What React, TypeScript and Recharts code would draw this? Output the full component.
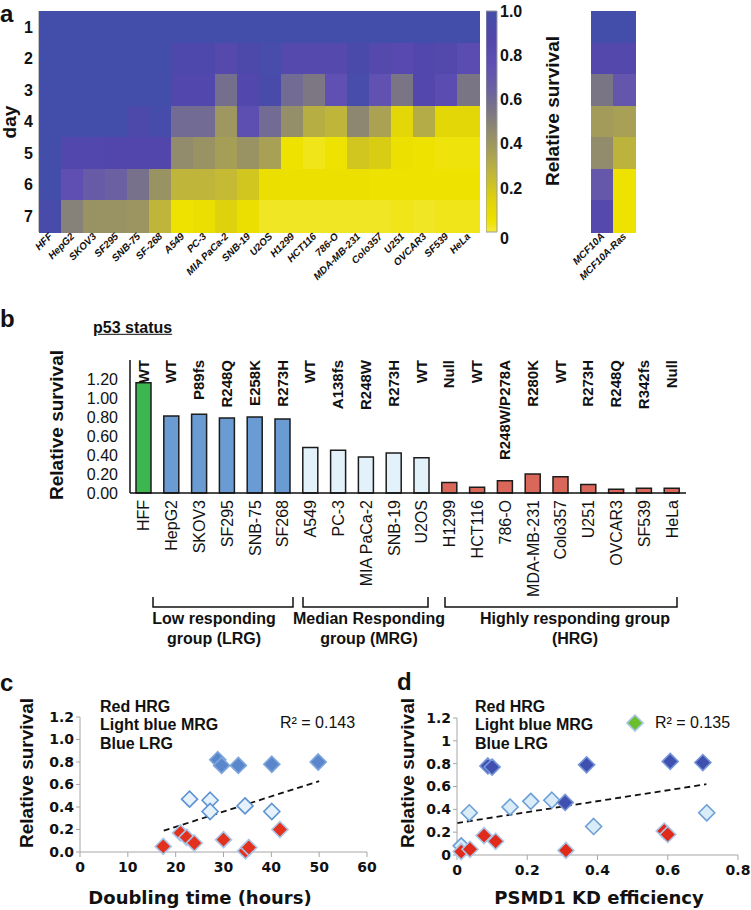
import React from 'react';
import {
  ScatterChart, Scatter, XAxis, YAxis, ComposedChart, BarChart, Bar, Cell,
  LabelList, Line,
} from 'recharts';

const SANS = '"Liberation Sans", Arial, Helvetica, sans-serif';
const NARROW = '"Liberation Sans Narrow", "Liberation Sans", Arial, sans-serif';
const DJ = '"DejaVu Sans", "Liberation Sans", sans-serif';

// ---------------- Panel a : heatmap ----------------
const heatCellLines = ['HFF', 'HepG2', 'SKOV3', 'SF295', 'SNB-75', 'SF-268', 'A549', 'PC-3', 'MIA PaCa-2', 'SNB-19', 'U2OS', 'H1299', 'HCT116', '786-O', 'MDA-MB-231', 'Colo357', 'U251', 'OVCAR3', 'SF539', 'HeLa'];
const dayTicks = [1, 2, 3, 4, 5, 6, 7];
const day1 = [1, 1, 1, 1, 1, 1, 1, 1, 1, 1, 1, 1, 1, 1, 1, 1, 1, 1, 1, 1];
const day2 = [1, 1, 1, 1, 1, 1, 0.9, 0.9, 0.84, 0.92, 0.96, 0.84, 0.84, 0.84, 0.94, 0.84, 0.83, 0.88, 0.85, 0.8];
const day3 = [1, 1, 1, 1, 1, 1, 0.88, 0.88, 0.58, 0.88, 0.95, 0.6, 0.54, 0.75, 0.96, 0.74, 0.55, 0.86, 0.8, 0.55];
const day4 = [1, 1, 1, 1, 0.92, 0.97, 0.6, 0.6, 0.4, 0.78, 0.6, 0.44, 0.3, 0.27, 0.47, 0.35, 0.12, 0.31, 0.12, 0.12];
const day5 = [1, 0.88, 0.88, 0.87, 0.87, 0.87, 0.45, 0.42, 0.37, 0.42, 0.36, 0.05, 0.03, 0.05, 0.2, 0.17, 0.06, 0.05, 0.04, 0.04];
const day6 = [1, 0.76, 0.68, 0.65, 0.57, 0.42, 0.27, 0.27, 0.25, 0.2, 0.07, 0.06, 0.06, 0.06, 0.06, 0.05, 0.05, 0.05, 0.05, 0.05];
const day7 = [0.95, 0.5, 0.42, 0.42, 0.41, 0.27, 0.05, 0.07, 0.15, 0.07, 0.02, 0.02, 0.02, 0.02, 0.02, 0.02, 0.03, 0.02, 0.03, 0.03];
const heatRows = [day1, day2, day3, day4, day5, day6, day7];

const mcfLines = ['MCF10A', 'MCF10A-Ras'];
const mcf10a = [1, 0.85, 0.55, 0.38, 0.45, 0.7, 0.84];
const mcf10aRas = [1, 0.85, 0.71, 0.36, 0.28, 0.05, 0.05];

const colorbarTicks = [0, 0.2, 0.4, 0.6, 0.8, 1.0];
const colorbarRange = [0, 1];

// colour map (style)
const cmapStops: [number, number[]][] = [
  [0.0, [243, 233, 60]],
  [0.05, [238, 226, 0]],
  [0.15, [222, 210, 12]],
  [0.25, [196, 186, 52]],
  [0.35, [170, 162, 82]],
  [0.45, [146, 140, 108]],
  [0.55, [122, 117, 133]],
  [0.65, [106, 96, 162]],
  [0.75, [96, 80, 180]],
  [0.87, [82, 70, 172]],
  [1.0, [67, 78, 170]],
];
const rgb = (c: number[]) => `rgb(${Math.round(c[0])},${Math.round(c[1])},${Math.round(c[2])})`;
function survivalColor(v: number) {
  const t = Math.max(0, Math.min(1, v));
  for (let i = 1; i < cmapStops.length; i++) {
    const [s1, c1] = cmapStops[i];
    const [s0, c0] = cmapStops[i - 1];
    if (t <= s1) {
      const f = (t - s0) / (s1 - s0);
      return rgb([0, 1, 2].map((k) => c0[k] + (c1[k] - c0[k]) * f));
    }
  }
  return rgb(cmapStops[cmapStops.length - 1][1]);
}

const heatPoints = heatRows.flatMap((row, d) => row.map((v, c) => ({ x: c, y: dayTicks[d], v })));
const mcfPoints = [mcf10a, mcf10aRas].flatMap((col, c) => col.map((v, d) => ({ x: c, y: dayTicks[d], v })));

// ---------------- Panel b : bars ----------------
const barCellLines = ['HFF', 'HepG2', 'SKOV3', 'SF295', 'SNB-75', 'SF268', 'A549', 'PC-3', 'MIA PaCa-2', 'SNB-19', 'U2OS', 'H1299', 'HCT116', '786-O', 'MDA-MB-231', 'Colo357', 'U251', 'OVCAR3', 'SF539', 'HeLa'];
const barSurvival = [1.16, 0.81, 0.83, 0.79, 0.8, 0.78, 0.48, 0.45, 0.38, 0.42, 0.37, 0.11, 0.06, 0.13, 0.2, 0.17, 0.09, 0.04, 0.05, 0.05];
const p53Status = ['WT', 'WT', 'P89fs', 'R248Q', 'E258K', 'R273H', 'WT', 'A138fs', 'R248W', 'R273H', 'WT', 'Null', 'WT', 'R248W/P278A', 'R280K', 'WT', 'R273H', 'R248Q', 'R342fs', 'Null'];
const responseGroup = ['HFF', 'LRG', 'LRG', 'LRG', 'LRG', 'LRG', 'MRG', 'MRG', 'MRG', 'MRG', 'MRG', 'HRG', 'HRG', 'HRG', 'HRG', 'HRG', 'HRG', 'HRG', 'HRG', 'HRG'];
const barTicks = [0, 0.2, 0.4, 0.6, 0.8, 1.0, 1.2];
const groupColor: Record<string, string> = { HFF: '#3cb64f', LRG: '#6a9bd2', MRG: '#e3f1fa', HRG: '#d9685b' };
const barData = barCellLines.map((name, i) => ({ name, survival: barSurvival[i], p53: p53Status[i], group: responseGroup[i] }));

// ---------------- Panel c ----------------
const doublingLRG = [28.8, 29.6, 33.1, 40.1, 49.8];
const survLRGc = [0.82, 0.77, 0.77, 0.78, 0.8];
const doublingMRG = [22.9, 27.2, 27.2, 34.5, 40.1];
const survMRGc = [0.47, 0.46, 0.36, 0.41, 0.36];
const doublingHRG = [17.4, 21.0, 22.3, 23.9, 30.0, 34.6, 35.3, 41.8];
const survHRGc = [0.05, 0.17, 0.13, 0.08, 0.11, 0.01, 0.04, 0.2];
const trendCx = [17.5, 50];
const trendCy = [0.19, 0.63];
const xTicksC = [0, 10, 20, 30, 40, 50, 60];
const yTicksCD = [0, 0.2, 0.4, 0.6, 0.8, 1.0, 1.2];

// ---------------- Panel d ----------------
const kdLRG = [0.088, 0.1, 0.369, 0.607, 0.7, 0.308];
const survLRGd = [0.78, 0.77, 0.79, 0.82, 0.81, 0.46];
const kdMRG = [0.035, 0.151, 0.21, 0.27, 0.389, 0.711, 0.012];
const survMRGd = [0.37, 0.42, 0.47, 0.48, 0.25, 0.37, 0.08];
const kdHRG = [0.012, 0.037, 0.077, 0.11, 0.31, 0.59, 0.6];
const survHRGd = [0.03, 0.05, 0.17, 0.12, 0.04, 0.21, 0.18];
const trendDx = [0.0, 0.71];
const trendDy = [0.28, 0.62];
const xTicksD = [0, 0.2, 0.4, 0.6, 0.8];

const zip = (xs: number[], ys: number[]) => xs.map((x, i) => ({ x, y: ys[i] }));

// ---------------- helpers ----------------
const CELL_W = 22;
const CELL_H = 221 / 7;

const HeatCell = (p: any) => (
  <rect x={p.cx - CELL_W / 2} y={p.cy - CELL_H / 2} width={CELL_W + 0.6} height={CELL_H + 0.6}
    fill={survivalColor(p.payload.v)} shapeRendering="crispEdges" />
);

const makeAngledTick = (names: string[]) => (p: any) => {
  const { x, y, payload } = p;
  return (
    <text transform={`translate(${x + 3},${y}) rotate(-45)`} textAnchor="end" fontFamily={SANS} fontWeight="bold" fontStyle="italic" fontSize={10} fill="#111">
      {names[payload.value]}
    </text>
  );
};

const DayTick = (p: any) => (
  <text x={p.x} y={p.y} dy="0.36em" textAnchor="end" fontFamily={SANS} fontWeight="bold" fontSize={16} fill="#111">{p.payload.value}</text>
);

const CbTick = (p: any) => {
  const v = p.payload.value;
  return (
    <text x={p.x} y={v === 0 ? p.y + 6 : p.y} dy="0.36em" textAnchor="start" fontFamily={SANS} fontWeight="bold" fontSize={16} fill="#111">
      {v === 0 ? '0' : v.toFixed(1)}
    </text>
  );
};

const BarNameTick = (p: any) => (
  <text transform={`translate(${p.x + 5.5},${p.y}) rotate(-90)`} textAnchor="end" fontFamily={SANS} fontSize={16} fill="#111">{p.payload.value}</text>
);

const P53_TOP = 60;
const P53Label = (p: any) => {
  const cx = Number(p.x) + Number(p.width) / 2;
  return (
    <text transform={`translate(${cx + 5},${P53_TOP}) rotate(-90)`} textAnchor="end" fontFamily={NARROW} fontWeight="bold" fontSize={15} fill="#111">{p.value}</text>
  );
};

const diamond = (fill: string, stroke: string) => (p: any) => {
  const { cx, cy } = p;
  const r = 8;
  return <polygon points={`${cx},${cy - r} ${cx + r},${cy} ${cx},${cy + r} ${cx - r},${cy}`} fill={fill} stroke={stroke} strokeWidth={1.6} />;
};

const abs = (left: number, top: number): React.CSSProperties => ({ position: 'absolute', left, top });

const Txt = ({ x, cy, children, style }: any) => (
  <div style={{ position: 'absolute', left: x, top: cy, transform: 'translateY(-50%)', whiteSpace: 'nowrap', lineHeight: 1.15, ...style }}>{children}</div>
);
const CTxt = ({ cx, cy, children, style }: any) => (
  <div style={{ position: 'absolute', left: cx, top: cy, transform: 'translate(-50%,-50%)', whiteSpace: 'nowrap', lineHeight: 1.15, ...style }}>{children}</div>
);
const RotTxt = ({ cx, cy, children, style }: any) => (
  <div style={{ position: 'absolute', left: cx, top: cy, transform: 'translate(-50%,-50%) rotate(-90deg)', whiteSpace: 'nowrap', lineHeight: 1.15, ...style }}>{children}</div>
);

const bold = { fontFamily: SANS, fontWeight: 'bold', color: '#111' } as React.CSSProperties;
const gridGray = '#a6a6a6';

const numTick = { fontFamily: DJ, fontWeight: 'bold', fontSize: 14, fill: '#111' } as any;

export default function App() {
  return (
    <div style={{ position: 'absolute', left: 0, top: 0, width: 751, height: 910, background: '#fff', fontFamily: SANS, overflow: 'hidden' }}>
      <svg width={0} height={0} style={{ position: 'absolute' }}>
        <defs>
          <linearGradient id="cbGrad" x1="0" y1="1" x2="0" y2="0">
            {cmapStops.map(([s, c]) => (
              <stop key={s} offset={s} stopColor={rgb(c)} />
            ))}
          </linearGradient>
        </defs>
      </svg>

      {/* ---------- panel a heatmap ---------- */}
      <div style={abs(0, 0)}>
        <ScatterChart width={490} height={300} margin={{ top: 11, right: 11, bottom: 0, left: 0 }}>
          <XAxis type="number" dataKey="x" domain={[-0.5, 19.5]} ticks={heatCellLines.map((_, i) => i)} interval={0}
            height={68} tickLine={false} tickSize={0} tickMargin={5} axisLine={{ stroke: '#8a8a8a' }} tick={makeAngledTick(heatCellLines)} />
          <XAxis xAxisId="top" orientation="top" type="number" domain={[-0.5, 19.5]} ticks={heatCellLines.map((_, i) => i)} interval={0}
            height={0} mirror tick={false} tickSize={4} tickLine={{ stroke: '#444' }} axisLine={{ stroke: '#8a8a8a' }} />
          <YAxis type="number" dataKey="y" domain={[0.5, 7.5]} reversed ticks={dayTicks} interval={0} width={39}
            tickLine={false} tickSize={0} tickMargin={6} axisLine={{ stroke: '#8a8a8a' }} tick={DayTick} />
          <YAxis yAxisId="right" orientation="right" type="number" domain={[0.5, 7.5]} reversed ticks={dayTicks} interval={0} width={0}
            mirror tick={false} tickSize={4} tickLine={{ stroke: '#444' }} axisLine={{ stroke: '#8a8a8a' }} />
          <Scatter data={heatPoints} shape={HeatCell} isAnimationActive={false} />
        </ScatterChart>
      </div>

      {/* colorbar */}
      <div style={abs(486, 0)}>
        <BarChart width={80} height={256} data={[{ name: 'scale', range: colorbarRange }]} margin={{ top: 11, right: 0, bottom: 24, left: 0 }} barCategoryGap={0}>
          <XAxis dataKey="name" hide />
          <YAxis type="number" orientation="right" domain={[0, 1]} ticks={colorbarTicks} interval={0} width={69}
            axisLine={false} tickLine={false} tickSize={0} tickMargin={3} tick={CbTick} />
          <Bar dataKey="range" fill="url(#cbGrad)" stroke="#9a9a9a" strokeWidth={1} isAnimationActive={false} />
        </BarChart>
      </div>

      {/* MCF10A */}
      <div style={abs(540, 0)}>
        <ScatterChart width={105} height={300} margin={{ top: 11, right: 10, bottom: 0, left: 51 }}>
          <XAxis type="number" dataKey="x" domain={[-0.5, 1.5]} ticks={[0, 1]} interval={0} height={68}
            tickLine={false} tickSize={0} tickMargin={5} axisLine={{ stroke: '#8a8a8a' }} tick={makeAngledTick(mcfLines)} />
          <XAxis xAxisId="top" orientation="top" type="number" domain={[-0.5, 1.5]} ticks={[0, 1]} interval={0}
            height={0} mirror tick={false} tickSize={4} tickLine={{ stroke: '#444' }} axisLine={{ stroke: '#8a8a8a' }} />
          <YAxis type="number" dataKey="y" domain={[0.5, 7.5]} reversed hide width={0} />
          <YAxis yAxisId="right" orientation="right" type="number" domain={[0.5, 7.5]} reversed ticks={dayTicks} interval={0} width={0}
            mirror tick={false} tickSize={4} tickLine={{ stroke: '#444' }} axisLine={{ stroke: '#8a8a8a' }} />
          <Scatter data={mcfPoints} shape={HeatCell} isAnimationActive={false} />
        </ScatterChart>
      </div>

      <Txt x={0} cy={14} style={{ ...bold, fontSize: 24, lineHeight: 1 }}>a</Txt>
      <RotTxt cx={10} cy={122} style={{ ...bold, fontSize: 19 }}>day</RotTxt>
      <RotTxt cx={553} cy={111} style={{ ...bold, fontSize: 19 }}>Relative survival</RotTxt>

      {/* ---------- panel b ---------- */}
      <Txt x={0} cy={319} style={{ ...bold, fontSize: 24 }}>b</Txt>
      <Txt x={93} cy={328} style={{ ...bold, fontSize: 16, textDecoration: 'underline' }}>p53 status</Txt>
      <RotTxt cx={57} cy={425} style={{ ...bold, fontSize: 19 }}>Relative survival</RotTxt>
      <div style={abs(0, 300)}>
        <BarChart width={751} height={300} data={barData} margin={{ top: 60, right: 65, bottom: 0, left: 0 }} barSize={15}>
          <XAxis dataKey="name" interval={0} height={107} tickLine={false} tickSize={0} tickMargin={7}
            axisLine={{ stroke: '#111', strokeWidth: 1.5 }} tick={BarNameTick} />
          <YAxis type="number" domain={[0, 1.4]} ticks={barTicks} interval={0} width={130} tickLine={false} tickSize={0} tickMargin={12}
            axisLine={{ stroke: '#111', strokeWidth: 1.5 }} tickFormatter={(v: number) => v.toFixed(2)}
            tick={{ fontFamily: SANS, fontSize: 16, fill: '#111' }} />
          <Bar dataKey="survival" stroke="#1c1c1c" strokeWidth={1.5} isAnimationActive={false}>
            {barData.map((d) => (
              <Cell key={d.name} fill={groupColor[d.group]} />
            ))}
            <LabelList dataKey="p53" content={P53Label} />
          </Bar>
        </BarChart>
      </div>
      <svg width={751} height={910} style={{ position: 'absolute', left: 0, top: 0, pointerEvents: 'none' }}>
        <path d="M153,597 V607 H293 V597" fill="none" stroke="#111" strokeWidth={1.5} />
        <path d="M303,597 V607 H428 V597" fill="none" stroke="#111" strokeWidth={1.5} />
        <path d="M445,597 V607 H677 V597" fill="none" stroke="#111" strokeWidth={1.5} />
      </svg>
      <CTxt cx={214} cy={619} style={{ ...bold, fontSize: 16 }}>Low responding</CTxt>
      <CTxt cx={214} cy={639} style={{ ...bold, fontSize: 16 }}>group (LRG)</CTxt>
      <CTxt cx={369} cy={619} style={{ ...bold, fontSize: 16 }}>Median Responding</CTxt>
      <CTxt cx={369} cy={639} style={{ ...bold, fontSize: 16 }}>group (MRG)</CTxt>
      <CTxt cx={575} cy={619} style={{ ...bold, fontSize: 16 }}>Highly responding group</CTxt>
      <CTxt cx={575} cy={639} style={{ ...bold, fontSize: 16 }}>(HRG)</CTxt>

      {/* ---------- panel c ---------- */}
      <Txt x={0} cy={683} style={{ ...bold, fontSize: 24 }}>c</Txt>
      <div style={abs(0, 700)}>
        <ComposedChart width={380} height={210} margin={{ top: 17, right: 13, bottom: 0, left: 0 }}>
          <XAxis type="number" dataKey="x" domain={[0, 60]} ticks={xTicksC} interval={0} height={58}
            axisLine={{ stroke: gridGray }} tickLine={{ stroke: gridGray }} tickSize={5} tickMargin={5} tick={numTick} />
          <YAxis type="number" dataKey="y" domain={[0, 1.2]} ticks={yTicksCD} interval={0} width={80}
            axisLine={{ stroke: gridGray }} tickLine={{ stroke: gridGray }} tickSize={4} tickMargin={2} tick={numTick}
            tickFormatter={(v: number) => v.toFixed(1)} />
          <Line data={zip(trendCx, trendCy)} dataKey="y" type="linear" stroke="#111" strokeWidth={1.8} strokeDasharray="6 4" dot={false} isAnimationActive={false} />
          <Scatter data={zip(doublingMRG, survMRGc)} shape={diamond('#e6f2fb', '#5c92d4')} isAnimationActive={false} />
          <Scatter data={zip(doublingHRG, survHRGc)} shape={diamond('#e2321f', '#a9c6e8')} isAnimationActive={false} />
          <Scatter data={zip(doublingLRG, survLRGc)} shape={diamond('#5a87cc', '#7fa6dc')} isAnimationActive={false} />
        </ComposedChart>
      </div>
      <RotTxt cx={27} cy={773} style={{ ...bold, fontSize: 19 }}>Relative survival</RotTxt>
      <CTxt cx={200} cy={898} style={{ ...bold, fontFamily: DJ, fontSize: 18 }}>Doubling time (hours)</CTxt>
      <Txt x={100} cy={707} style={{ ...bold, fontSize: 16 }}>Red HRG</Txt>
      <Txt x={100} cy={725} style={{ ...bold, fontSize: 16 }}>Light blue MRG</Txt>
      <Txt x={100} cy={744} style={{ ...bold, fontSize: 16 }}>Blue LRG</Txt>
      <Txt x={280} cy={723} style={{ fontFamily: SANS, fontSize: 16, color: '#111' }}>R² = 0.143</Txt>

      {/* ---------- panel d ---------- */}
      <Txt x={397} cy={682} style={{ ...bold, fontSize: 24 }}>d</Txt>
      <div style={abs(375, 700)}>
        <ComposedChart width={376} height={210} margin={{ top: 18, right: 13, bottom: 0, left: 0 }}>
          <XAxis type="number" dataKey="x" domain={[0, 0.8]} ticks={xTicksD} interval={0} height={55}
            axisLine={{ stroke: gridGray }} tickLine={{ stroke: gridGray }} tickSize={5} tickMargin={5} tick={numTick}
            tickFormatter={(v: number) => (v === 0 ? '0' : String(v))} />
          <YAxis type="number" dataKey="y" domain={[0, 1.2]} ticks={yTicksCD} interval={0} width={82}
            axisLine={{ stroke: gridGray }} tickLine={{ stroke: gridGray }} tickSize={4} tickMargin={2} tick={numTick}
            tickFormatter={(v: number) => (v === 0 ? '0' : v === 1 ? '1' : v.toFixed(1))} />
          <Line data={zip(trendDx, trendDy)} dataKey="y" type="linear" stroke="#111" strokeWidth={1.8} strokeDasharray="6 4" dot={false} isAnimationActive={false} />
          <Scatter data={zip(kdMRG, survMRGd)} shape={diamond('#d9ecf8', '#6c9fd8')} isAnimationActive={false} />
          <Scatter data={zip(kdHRG, survHRGd)} shape={diamond('#e02b1a', '#a9c6e8')} isAnimationActive={false} />
          <Scatter data={zip(kdLRG, survLRGd)} shape={diamond('#3f50b0', '#7595d8')} isAnimationActive={false} />
        </ComposedChart>
      </div>
      <RotTxt cx={408} cy={773} style={{ ...bold, fontSize: 19 }}>Relative survival</RotTxt>
      <CTxt cx={599} cy={898} style={{ ...bold, fontFamily: DJ, fontSize: 18 }}>PSMD1 KD efficiency</CTxt>
      <Txt x={475} cy={707} style={{ ...bold, fontSize: 16 }}>Red HRG</Txt>
      <Txt x={475} cy={725} style={{ ...bold, fontSize: 16 }}>Light blue MRG</Txt>
      <Txt x={475} cy={744} style={{ ...bold, fontSize: 16 }}>Blue LRG</Txt>
      <svg width={18} height={18} style={{ position: 'absolute', left: 626, top: 714 }}>
        <polygon points="9,1 17,9 9,17 1,9" fill="#6abf2e" stroke="#a9c6e8" strokeWidth={1.6} />
      </svg>
      <Txt x={655} cy={723} style={{ fontFamily: SANS, fontSize: 16, color: '#111' }}>R² = 0.135</Txt>
    </div>
  );
}
